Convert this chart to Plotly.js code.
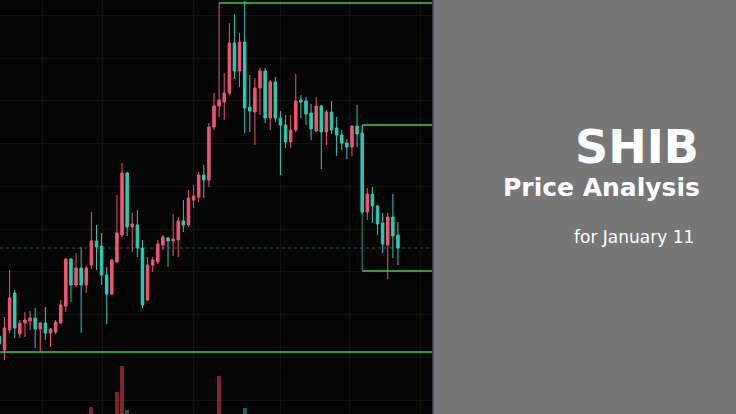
<!DOCTYPE html>
<html>
<head>
<meta charset="utf-8">
<script src="https://cdn.plot.ly/plotly-3.0.1.min.js"></script>
<style>html,body{margin:0;padding:0;background:#777;}#chart{width:736px;height:414px;}</style>
</head>
<body>
<div id="chart"></div>
<script>
// Candle values (arbitrary price units)
const opens  = [78,64,84,121,80,91,93,96,85,91,81,82,91,108,155,129,146,129,149,173,168,139,120,152,179,241,187,189,166,114,149,152,169,176,173,174,193,189,214,217,239,234,287,308,312,321,371,343,372,307,302,326,343,296,332,296,289,272,284,314,313,301,283,308,282,302,286,279,271,267,288,281,202,220,208,191,169,197,179];
const highs  = [81,97,144,124,94,102,103,106,92,107,86,94,114,156,156,161,167,148,202,189,181,147,155,219,251,242,201,204,174,157,157,174,179,177,200,197,214,224,229,242,249,291,321,411,341,391,400,381,413,339,336,346,346,334,337,303,299,299,340,319,317,310,317,309,304,313,297,284,275,289,309,289,226,227,209,201,201,220,192];
const lows   = [68,54,81,76,76,77,84,66,62,74,67,80,90,102,112,127,81,121,145,144,129,90,119,151,177,178,162,157,106,113,142,150,164,147,158,157,182,187,206,212,216,227,284,297,294,319,335,327,281,282,269,299,291,284,292,239,266,266,282,296,289,274,282,245,269,280,258,264,255,258,267,200,194,191,179,161,135,156,149];
const closes = [70,86,116,86,91,94,96,85,91,81,85,92,109,155,129,146,129,146,173,167,139,120,154,181,241,187,190,166,109,149,154,170,177,173,175,193,189,216,218,239,234,287,308,314,321,371,343,372,306,303,326,343,296,332,296,289,272,284,313,312,300,285,308,282,302,284,279,271,267,288,280,202,220,208,190,170,197,178,166];
const volumes = [0,0,0,0,0,0,0,0,0,0,0,0,0,0,0,0,0,0,7,0,0,0,0,22,48,4,0,0,0,0,0,0,0,0,0,0,0,0,0,0,0,0,0,38,0,0,0,0,6,0,0,0,0,0,0,0,0,0,0,0,0,0,0,0,0,0,0,0,0,0,0,0,0,0,0,0,0,0,0];
// Drawn levels: resistance top, box top, box bottom, support
const levelTop = 411;
const boxTop = 289;
const boxBottom = 143;
const support = 62;
const levelTopStart = 43;
const boxStart = 71;
const titleLines = ["SHIB", "Price Analysis", "for January 11"];

const xs = opens.map((_, i) => i);
const UP = '#f05670', DOWN = '#27cdb6';
const xr = [0.117, 84.66];
const last = closes[closes.length - 1];

const volColors = closes.map((c, i) => c >= opens[i] ? 'rgba(140,40,50,0.9)' : 'rgba(30,105,95,0.9)');

const traces = [
  {
    type: 'bar', x: xs, y: volumes, yaxis: 'y2', width: 0.78,
    marker: {color: volColors, line: {width: 0}}, hoverinfo: 'skip'
  },
  {
    type: 'candlestick', x: xs, open: opens, high: highs, low: lows, close: closes,
    increasing: {line: {color: UP, width: 1}, fillcolor: UP},
    decreasing: {line: {color: DOWN, width: 1}, fillcolor: DOWN},
    whiskerwidth: 0, hoverinfo: 'skip'
  }
];

const green = '#3ad23a';
const shapes = [
  {type: 'line', xref: 'x', yref: 'y', x0: levelTopStart, x1: xr[1], y0: levelTop, y1: levelTop, line: {color: green, width: 1.6}},
  {type: 'line', xref: 'x', yref: 'y', x0: boxStart, x1: xr[1], y0: boxTop, y1: boxTop, line: {color: green, width: 1.6}},
  {type: 'line', xref: 'x', yref: 'y', x0: boxStart, x1: xr[1], y0: boxBottom, y1: boxBottom, line: {color: green, width: 1.6}},
  {type: 'line', xref: 'x', yref: 'y', x0: boxStart, x1: boxStart, y0: boxBottom, y1: boxTop, line: {color: 'rgba(40,190,160,0.8)', width: 1}},
  {type: 'line', xref: 'x', yref: 'y', x0: xr[0], x1: xr[1], y0: support, y1: support, line: {color: green, width: 1.6}},
  {type: 'line', xref: 'x', yref: 'y', x0: xr[0], x1: xr[1], y0: last, y1: last, line: {color: 'rgba(45,120,110,0.8)', width: 1, dash: 'dot'}, layer: 'below'},
  {type: 'rect', xref: 'paper', yref: 'paper', x0: 432/736, x1: 433.5/736, y0: 0, y1: 1, fillcolor: '#3a3055', line: {width: 0}}
];

const annotations = [
  {text: '<b>' + titleLines[0] + '</b>', x: 701/736, y: 0.645, font: {family: 'DejaVu Sans', size: 46, color: '#ffffff'}},
  {text: '<b>' + titleLines[1] + '</b>', x: 702/736, y: 0.548, font: {family: 'DejaVu Sans', size: 25, color: '#ffffff'}},
  {text: titleLines[2], x: 696/736, y: 0.428, font: {family: 'DejaVu Sans', size: 17, color: '#ffffff'}}
].map(a => Object.assign({xref: 'paper', yref: 'paper', xanchor: 'right', yanchor: 'middle', showarrow: false}, a));

const layout = {
  width: 736, height: 414,
  margin: {l: 0, r: 0, t: 0, b: 0, pad: 0},
  paper_bgcolor: '#777777',
  plot_bgcolor: '#040404',
  showlegend: false,
  bargap: 0,
  xaxis: {
    domain: [0, 432/736], range: xr, rangeslider: {visible: false},
    showticklabels: false, ticks: '', zeroline: false, showline: false,
    tickmode: 'array', tickvals: [8.34, 20.08, 37.9, 55.1, 68.6, 82.5],
    showgrid: true, gridcolor: '#111111', gridwidth: 1
  },
  yaxis: {
    range: [0, 414], showticklabels: false, ticks: '', zeroline: false, showline: false,
    tick0: 14, dtick: 42.75, showgrid: true, gridcolor: '#111111', gridwidth: 1
  },
  yaxis2: {
    range: [0, 414], overlaying: 'y', showticklabels: false, showgrid: false, zeroline: false
  },
  shapes: shapes,
  annotations: annotations
};

Plotly.newPlot('chart', traces, layout, {staticPlot: true, displayModeBar: false});
</script>
</body>
</html>
